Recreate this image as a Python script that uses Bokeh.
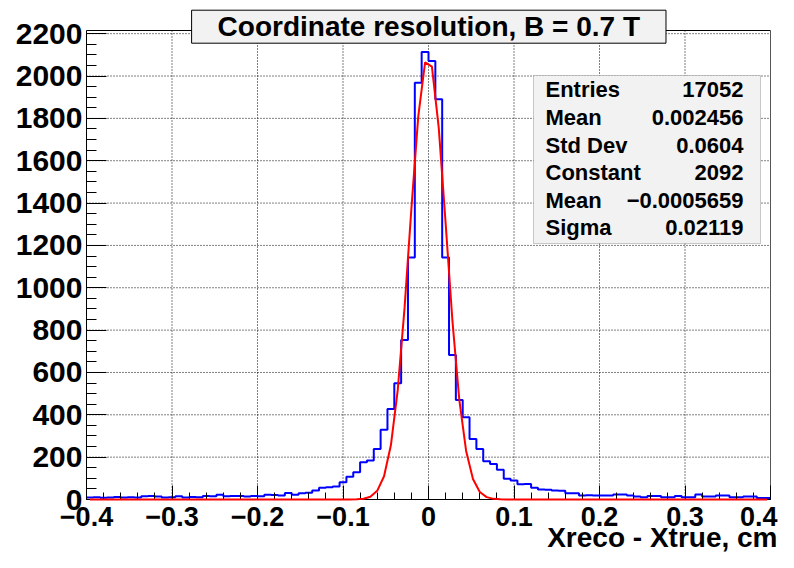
import numpy as np
from bokeh.plotting import figure
from bokeh.models import Range1d, FixedTicker, Label, BoxAnnotation
from bokeh.embed import file_html
from bokeh.resources import INLINE

# ---------------- data ----------------
title_text = "Coordinate resolution, B = 0.7 T"
x_title = "Xreco - Xtrue, cm"

x_lo, x_hi, n_bins = -0.4, 0.4, 100
counts = [9, 11, 8, 10, 12, 9, 11, 10, 15, 16, 14, 10, 11, 15, 10, 12, 11, 16, 15, 22,
          15, 17, 16, 14, 16, 15, 22, 21, 19, 31, 23, 30,
          32, 42, 55, 58, 61, 82, 108, 129, 176, 184, 239, 329,
          428, 549, 753, 1143, 1968, 2113, 2071, 1890, 1143, 683, 470, 388, 286,
          239, 181, 168, 140, 98, 90, 72,
          73, 55, 47, 46, 42, 41, 30, 30, 19, 20, 19, 19, 19, 24, 24, 19, 14, 11, 17, 17,
          11, 11, 17, 11, 11, 24, 14, 14, 19, 19, 11, 11, 14, 14, 7, 7]

fit_constant = 2092.0
fit_mean = -0.0005659
fit_sigma = 0.02119

stat_names = ["Entries", "Mean", "Std Dev", "Constant", "Mean", "Sigma"]
stat_values = ["17052", "0.002456", "0.0604", "2092", "\u22120.0005659", "0.02119"]

x_ticks = [-0.4, -0.3, -0.2, -0.1, 0.0, 0.1, 0.2, 0.3, 0.4]
x_tick_labels = ["\u22120.4", "\u22120.3", "\u22120.2", "\u22120.1", "0", "0.1", "0.2", "0.3", "0.4"]
x_minor_step = 0.02
y_ticks = [0, 200, 400, 600, 800, 1000, 1200, 1400, 1600, 1800, 2000, 2200]
y_minor_step = 50
y_top = 2215

# ---------------- layout ----------------
W, H = 778, 552
PX_L, PX_R, PX_T, PX_B = 86, 770, 30, 499   # pixel positions of x_lo, x_hi, y_top, 0
FONT = "Liberation Sans"
BASE_K = 0.415   # bokeh alphabetic anchor sits this many em below the glyph baseline


def dx(px):
    return x_lo + (px - PX_L) / (PX_R - PX_L) * (x_hi - x_lo)


def dy(py):
    return y_top * (PX_B - py) / (PX_B - PX_T)


def base(py, size):
    """data y for a label whose glyph baseline should sit at page pixel py"""
    return dy(py - BASE_K * size)


p = figure(width=W, height=H, output_backend="svg", toolbar_location=None,
           x_range=Range1d(dx(0), dx(W)), y_range=Range1d(dy(H), dy(0)),
           min_border_left=0, min_border_right=0,
           min_border_top=0, min_border_bottom=0)
p.title.visible = False
p.background_fill_color = "white"
p.border_fill_color = "white"
p.outline_line_color = None
p.grid.visible = False

# dotted grid at the major ticks
grid_kw = dict(line_color="black", line_width=1, line_dash="1 2")
p.segment(x0=x_ticks[1:-1], y0=[0] * (len(x_ticks) - 2),
          x1=x_ticks[1:-1], y1=[y_top] * (len(x_ticks) - 2), **grid_kw)
p.segment(x0=[x_lo] * (len(y_ticks) - 1), y0=y_ticks[1:],
          x1=[x_hi] * (len(y_ticks) - 1), y1=y_ticks[1:], **grid_kw)

# frame top and right edges
p.line(x=[x_lo, x_hi], y=[y_top, y_top], line_color="black", line_width=1)
p.line(x=[x_hi, x_hi], y=[0, y_top], line_color="#555555", line_width=1)

# histogram
edges = np.linspace(x_lo, x_hi, n_bins + 1)
p.step(x=list(edges), y=counts + [counts[-1]], mode="after",
       line_color="#0000ff", line_width=2)

# fit curve
centers = 0.5 * (edges[:-1] + edges[1:])
fit_y = fit_constant * np.exp(-0.5 * ((centers - fit_mean) / fit_sigma) ** 2)
p.line(x=centers, y=fit_y, line_color="#ff0000", line_width=2, level="overlay")

# axes
XTICK_SIZE = 27
YTICK_SIZE = 30
x_minor = list(np.round(np.arange(x_lo, x_hi + 1e-9, x_minor_step), 3))
y_minor = list(range(0, y_top, y_minor_step))
p.xaxis.ticker = FixedTicker(ticks=x_ticks, minor_ticks=x_minor)
p.yaxis.ticker = FixedTicker(ticks=y_ticks, minor_ticks=y_minor)
overrides = dict(zip(x_ticks, x_tick_labels))
overrides[x_ticks[-1]] = ""          # last label drawn separately so it is not cut
p.xaxis.major_label_overrides = overrides
p.xaxis.fixed_location = 0
p.yaxis.fixed_location = x_lo
p.xaxis.bounds = (x_lo, x_hi)
p.yaxis.bounds = (0, y_top)

for ax in (p.xaxis, p.yaxis):
    ax.axis_line_color = "black"
    ax.axis_line_width = 1
    ax.major_tick_line_color = "black"
    ax.minor_tick_line_color = "black"
    ax.major_tick_out = 0
    ax.minor_tick_out = 0
    ax.major_label_text_font = FONT
    ax.major_label_text_font_style = "bold"
    ax.major_label_text_color = "black"

p.xaxis.major_label_text_font_size = f"{XTICK_SIZE}px"
p.yaxis.major_label_text_font_size = f"{YTICK_SIZE}px"
p.xaxis.major_tick_in = 14
p.xaxis.minor_tick_in = 7
p.yaxis.major_tick_in = 20
p.yaxis.minor_tick_in = 10
p.xaxis.major_label_standoff = 7
p.yaxis.major_label_standoff = 4

p.add_layout(Label(x=dx(777), y=base(527, XTICK_SIZE), text=x_tick_labels[-1],
                   text_align="right", text_baseline="alphabetic", text_font=FONT,
                   text_font_style="bold", text_font_size=f"{XTICK_SIZE}px",
                   text_color="black"))

# stats box
STAT_SIZE = 22
p.add_layout(BoxAnnotation(left=dx(533), right=dx(760), top=dy(75), bottom=dy(243),
                           fill_color="#f2f2f2", fill_alpha=1.0,
                           line_color="#555555", line_width=1))
for i, (nm, vl) in enumerate(zip(stat_names, stat_values)):
    yb = base(98.5 + 27.6 * i, STAT_SIZE)
    p.add_layout(Label(x=dx(545), y=yb, text=nm, text_align="left",
                       text_baseline="alphabetic", text_font=FONT,
                       text_font_style="bold", text_font_size=f"{STAT_SIZE}px",
                       text_color="black"))
    p.add_layout(Label(x=dx(743), y=yb, text=vl, text_align="right",
                       text_baseline="alphabetic", text_font=FONT,
                       text_font_style="bold", text_font_size=f"{STAT_SIZE}px",
                       text_color="black"))

# title box with shadow
tx, ty = dx(428.3), dy(26.2)
p.add_layout(Label(x=tx, y=ty, x_offset=2, y_offset=-2, text=title_text,
                   text_align="center", text_baseline="middle", text_font=FONT,
                   text_font_style="bold", text_font_size="28px", text_alpha=0.0,
                   background_fill_color="black", background_fill_alpha=1.0,
                   padding=(26, 1)))
p.add_layout(Label(x=tx, y=ty, text=title_text,
                   text_align="center", text_baseline="middle", text_font=FONT,
                   text_font_style="bold", text_font_size="28px", text_color="black",
                   background_fill_color="#f2f2f2", background_fill_alpha=1.0,
                   border_line_color="black", border_line_width=1,
                   padding=(26, 1)))

# x axis title
XT_SIZE = 28
p.add_layout(Label(x=dx(777), y=base(549, XT_SIZE), text=x_title, text_align="right",
                   text_baseline="alphabetic", text_font=FONT, text_font_style="bold",
                   text_font_size=f"{XT_SIZE}px", text_color="black"))

open("out.html", "w").write(file_html(p, INLINE))
